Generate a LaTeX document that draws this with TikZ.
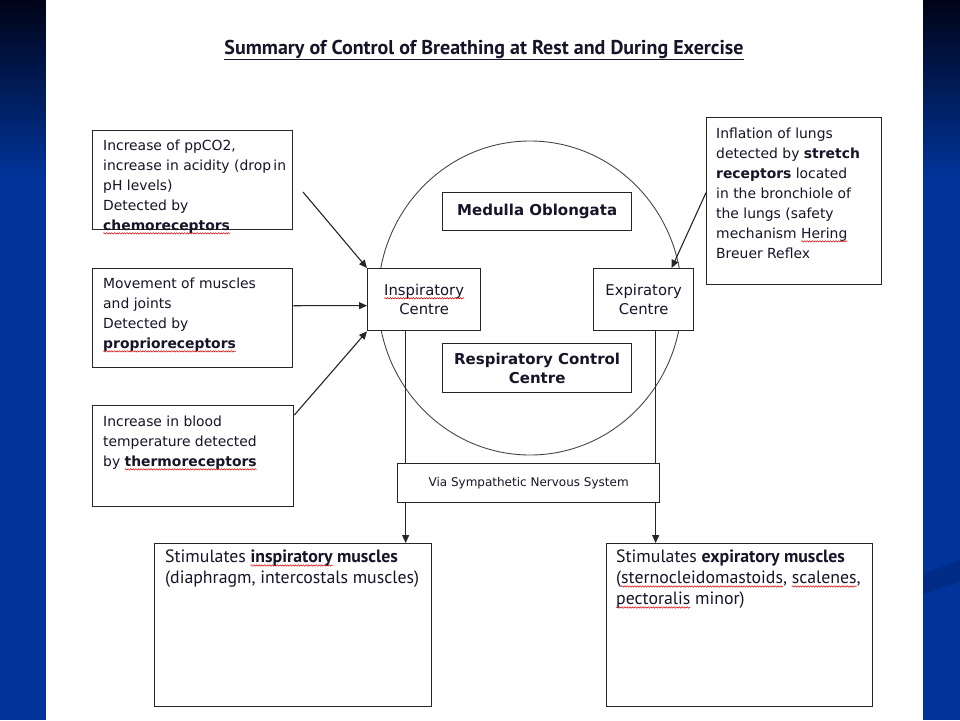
\documentclass[tikz,border=0pt]{standalone}
\usepackage{fontspec}
\setmainfont{DejaVu Sans}
\newfontfamily\titlefont{PT Sans}
\usetikzlibrary{arrows.meta, decorations.pathmorphing}

\definecolor{bgdark}{RGB}{0,4,24}
\definecolor{bgblue}{RGB}{0,52,155}
\definecolor{bgswoosh}{RGB}{0,44,136}
\definecolor{textdark}{RGB}{22,20,40}
\definecolor{linedark}{RGB}{38,38,38}

\newcommand{\BodySize}{\fontsize{13.9}{20}\selectfont}
\newcommand{\MuscleSize}{\fontsize{17.8}{21}\selectfont}

\tikzset{spellwave/.style={draw=red!85!black, line width=0.5pt, decorate, decoration={snake, amplitude=0.7pt, segment length=2.6pt}}}

\newsavebox{\SpellBox}
\newlength{\SpellLen}
\newcommand{\spell}[1]{\sbox{\SpellBox}{#1}\setlength{\SpellLen}{\wd\SpellBox}\tikz[overlay]\draw[spellwave] (0pt,-2.6pt) -- (\SpellLen,-2.6pt);\usebox{\SpellBox}}

\begin{document}
\begin{tikzpicture}[x=1pt, y=-1pt,
    infobox/.style={draw=linedark, line width=1.4pt, fill=white, anchor=north west, inner sep=0pt},
    centrebox/.style={infobox, line width=1.3pt, align=center, text=textdark, font=\BodySize},
    boxtext/.style={anchor=north west, align=left, inner sep=0pt, text=textdark, font=\BodySize},
    flow/.style={draw=linedark, line width=1.1pt, -{Triangle[length=8pt, width=7pt]}}]

    % draw slide background
    \fill[bgblue] (0,0) rectangle (960,720);
    \shade[top color=bgdark, bottom color=bgblue] (0,0) rectangle (960,180);
    \fill[bgswoosh] (923,574) -- (960,560) -- (960,582) -- (923,594) -- cycle;
    \fill[white] (46,0) rectangle (923,720);
    \useasboundingbox (0,0) rectangle (960,720);

    % draw title
    \node[font=\titlefont\bfseries\fontsize{20}{22}\selectfont, text=textdark] (title) at (484,50)
        {\underline{Summary of Control of Breathing at Rest and During Exercise}};

    % draw medulla circle
    \draw[draw=linedark!85, line width=0.9pt] (530,298) ellipse [x radius=152, y radius=157];


    % draw receptor boxes
    \node[infobox, minimum width=200pt, minimum height=99pt] (chemo) at (92,130) {};
    \node[boxtext] (chemotext) at ([shift={(11pt,-10pt)}]chemo.north west)
        {Increase of ppCO2,\\ increase in acidity (drop\,in\\ pH levels)\\ Detected by\\ \textbf{\spell{chemoreceptors}}};

    \node[infobox, minimum width=200pt, minimum height=99pt] (proprio) at (92,268) {};
    \node[boxtext] (propriotext) at ([shift={(11pt,-10pt)}]proprio.north west)
        {Movement of muscles\\ and joints\\ Detected by\\ \textbf{\spell{proprioreceptors}}};

    \node[infobox, minimum width=201pt, minimum height=101pt] (thermo) at (92,405) {};
    \node[boxtext] (thermotext) at ([shift={(11pt,-11pt)}]thermo.north west)
        {Increase in blood\\ temperature detected\\ by \textbf{\spell{thermoreceptors}}};

    \node[infobox, minimum width=175pt, minimum height=167pt] (stretch) at (706,117) {};
    \node[boxtext] (stretchtext) at ([shift={(10pt,-11pt)}]stretch.north west)
        {Inflation of lungs\\ detected by \textbf{stretch}\\ \textbf{receptors} located\\ in the bronchiole of\\ the lungs (safety\\ mechanism \spell{Hering}\\ Breuer Reflex};


    % draw centres inside the circle
    \node[centrebox, minimum width=113pt, minimum height=62pt, font=\fontsize{14.8}{19}\selectfont] (ins) at (367,268) {\spell{Inspiratory}\\ Centre};
    \node[centrebox, minimum width=100pt, minimum height=62pt, font=\fontsize{14.8}{19}\selectfont] (exp) at (593,268) {Expiratory\\ Centre};
    \node[centrebox, minimum width=189pt, minimum height=38pt, font=\bfseries\fontsize{15}{19}\selectfont] (med) at (442,192) {Medulla Oblongata};
    \node[centrebox, minimum width=189pt, minimum height=49pt, font=\bfseries\fontsize{15}{19}\selectfont] (rcc) at (442,343) {Respiratory Control\\ Centre};


    % draw muscle boxes
    \node[infobox, minimum width=277pt, minimum height=163pt] (inmus) at (154,543) {};
    \node[boxtext, font=\titlefont\MuscleSize] (inmustext) at ([shift={(11pt,-7pt)}]inmus.north west)
        {Stimulates \textbf{\spell{inspiratory} muscles}\\ (diaphragm, intercostals muscles)};

    \node[infobox, minimum width=266pt, minimum height=163pt] (exmus) at (606,543) {};
    \node[boxtext, font=\titlefont\MuscleSize] (exmustext) at ([shift={(10pt,-7pt)}]exmus.north west)
        {Stimulates \textbf{expiratory muscles}\\ (\spell{sternocleidomastoids}, \spell{scalenes},\\ \spell{pectoralis} minor)};


    % draw receptor arrows
    \coordinate (chemotail) at (303,192);
    \draw[flow] (chemotail) -- (ins.north west);
    \draw[flow] ([yshift=12.5pt]proprio.east) -- ([yshift=-6pt]ins.west);
    \draw[flow] ([yshift=-10pt]thermo.north east) -- (ins.south west);
    \draw[flow] ([yshift=8.5pt]stretch.west) -- ([xshift=28pt]exp.north);


    % draw nerve arrows down to the muscles
    \coordinate (insdrop) at ([xshift=-18.5pt]ins.south);
    \coordinate (expdrop) at ([xshift=12pt]exp.south);
    \draw[flow] (insdrop) -- (insdrop |- inmus.north);
    \draw[flow] (expdrop) -- (expdrop |- exmus.north);

    \node[centrebox, minimum width=262pt, minimum height=39pt, font=\fontsize{12}{14}\selectfont] (via) at (397,463) {Via Sympathetic Nervous System};

\end{tikzpicture}
\end{document}
